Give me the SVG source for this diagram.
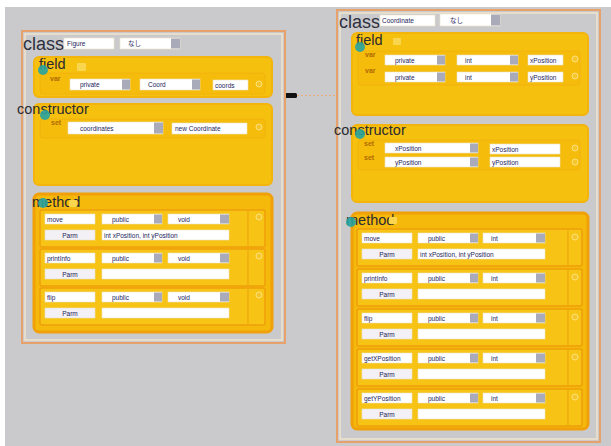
<svg xmlns="http://www.w3.org/2000/svg" width="611" height="446" viewBox="0 0 611 446">
<defs>
<style>
.frame{fill:none;stroke:#e7a26c;stroke-width:2}
.frin{fill:none;stroke:#efe4cc;stroke-width:1.5}
.blk{fill:#f6c00f;stroke:#f3b40c;stroke-width:2}
.mblk{fill:#f5b90c;stroke:#f0a008;stroke-width:3}
.vrow{fill:#f5bc0c;stroke:#f1b00e;stroke-width:0.8}
.row{fill:#f7c416;stroke:#ee9f0a;stroke-width:1.5}
.div{stroke:#ee9f0a;stroke-width:1}
.inp{fill:#ffffff;stroke:#ece3c4;stroke-width:0.6}
.btn{fill:#a9abbb}
.pbtn{fill:#f3f1f6;stroke:#e6dfc8;stroke-width:0.6}
.t{font-family:"Liberation Sans",Arial,sans-serif;font-size:6.5px;fill:#24245a}
.jp{font-family:"Liberation Sans","Noto Sans CJK JP",sans-serif;font-size:6.5px;fill:#24245a}
.lbl{font-family:"Liberation Sans",Arial,sans-serif;font-size:14.5px;fill:#2a2a30}
.cls{font-family:"Liberation Sans",Arial,sans-serif;font-size:18px;fill:#2e3040}
.tag{font-family:"Liberation Sans",Arial,sans-serif;font-size:7px;font-weight:bold;fill:#b06a00}
.dot{fill:#f6c52c;stroke:#fce07a;stroke-width:1}
.teal{fill:#27a3a0;opacity:0.9}
.sq{fill:#f9d64e}
</style>
</defs>
<rect x="0" y="0" width="611" height="446" fill="#ffffff"/>
<rect x="5" y="7" width="606" height="439" fill="#cacacd"/>

<g id="connectors">
<rect x="285" y="93" width="12" height="5" rx="1.5" fill="#111111"/>
<line x1="297" y1="95.5" x2="337" y2="95.5" stroke="#e4ae7e" stroke-width="1" stroke-dasharray="2,2"/>
</g>

<g id="class-figure">
<rect class="frame" x="22" y="31" width="263" height="312"/>
<rect class="frin" x="25" y="34" width="257" height="306"/>
<text class="cls" x="23" y="50">class</text>
<rect class="inp" x="64" y="38" width="50" height="11"/>
<text class="t" x="67" y="46">Figure</text>
<rect class="inp" x="120" y="38" width="60" height="11"/>
<rect class="btn" x="171" y="38.5" width="9" height="10"/>
<text class="jp" x="128" y="46">なし</text>

<g id="figure-field">
<rect class="blk" x="34" y="57" width="238" height="40" rx="5"/>
<rect class="vrow" x="40" y="73" width="225" height="21" rx="3"/>
<text class="lbl" x="39" y="69">field</text>
<circle class="teal" cx="43" cy="70" r="5"/>
<rect class="sq" x="77" y="63" width="9" height="8" rx="1"/>
<text class="tag" x="50" y="81">var</text>
<rect class="inp" x="70" y="79" width="60" height="11"/>
<rect class="btn" x="122" y="79.5" width="8" height="10"/>
<text class="t" x="80" y="87">private</text>
<rect class="inp" x="140" y="79" width="60" height="11"/>
<rect class="btn" x="192" y="79.5" width="8" height="10"/>
<text class="t" x="148" y="87">Coord</text>
<rect class="inp" x="213" y="80" width="35" height="10"/>
<text class="t" x="215" y="87.5">coords</text>
<circle class="dot" cx="259" cy="84" r="3"/>
</g>

<g id="figure-constructor">
<rect class="blk" x="34" y="104" width="238" height="81" rx="5"/>
<rect class="vrow" x="40" y="119" width="225" height="19" rx="3"/>
<text class="lbl" x="17" y="114">constructor</text>
<circle class="teal" cx="45" cy="115" r="5"/>
<text class="tag" x="51" y="125">set</text>
<rect class="inp" x="68" y="122" width="95" height="12"/>
<rect class="btn" x="154" y="122.5" width="9" height="11"/>
<text class="t" x="80" y="130.5">coordinates</text>
<rect class="inp" x="172" y="123" width="75" height="11"/>
<text class="t" x="175" y="131">new Coordinate</text>
<circle class="dot" cx="259" cy="127" r="3"/>
</g>

<g id="figure-method">
<rect class="mblk" x="34" y="194" width="238" height="138" rx="5"/>
<text class="lbl" x="32" y="207">method</text>
<circle class="teal" cx="43" cy="203" r="5"/>
<rect class="sq" x="69" y="200" width="8" height="7" rx="1"/>

<g id="figure-move">
<rect class="row" x="40" y="210" width="225" height="37" rx="2"/>
<line class="div" x1="248" y1="211" x2="248" y2="246"/>
<rect class="inp" x="45" y="214" width="50" height="10"/>
<text class="t" x="47" y="221.5">move</text>
<rect class="inp" x="102" y="214" width="60" height="10"/>
<rect class="btn" x="154" y="214.5" width="8" height="9"/>
<text class="t" x="112" y="221.5">public</text>
<rect class="inp" x="168" y="214" width="61" height="10"/>
<rect class="btn" x="220" y="214.5" width="9" height="9"/>
<text class="t" x="178" y="221.5">void</text>
<rect class="pbtn" x="45" y="230" width="50" height="10"/>
<text class="t" x="70" y="237.5" text-anchor="middle">Parm</text>
<rect class="inp" x="102" y="230" width="127" height="10"/>
<text class="t" x="104" y="237.5">int xPosition, int yPosition</text>
<circle class="dot" cx="259" cy="217" r="3"/>
</g>

<g id="figure-printInfo">
<rect class="row" x="40" y="249" width="225" height="37" rx="2"/>
<line class="div" x1="248" y1="250" x2="248" y2="285"/>
<rect class="inp" x="45" y="253" width="50" height="10"/>
<text class="t" x="47" y="260.5">printInfo</text>
<rect class="inp" x="102" y="253" width="60" height="10"/>
<rect class="btn" x="154" y="253.5" width="8" height="9"/>
<text class="t" x="112" y="260.5">public</text>
<rect class="inp" x="168" y="253" width="61" height="10"/>
<rect class="btn" x="220" y="253.5" width="9" height="9"/>
<text class="t" x="178" y="260.5">void</text>
<rect class="pbtn" x="45" y="269" width="50" height="10"/>
<text class="t" x="70" y="276.5" text-anchor="middle">Parm</text>
<rect class="inp" x="102" y="269" width="127" height="10"/>
<circle class="dot" cx="259" cy="256" r="3"/>
</g>

<g id="figure-flip">
<rect class="row" x="40" y="288" width="225" height="37" rx="2"/>
<line class="div" x1="248" y1="289" x2="248" y2="324"/>
<rect class="inp" x="45" y="292" width="50" height="10"/>
<text class="t" x="47" y="299.5">flip</text>
<rect class="inp" x="102" y="292" width="60" height="10"/>
<rect class="btn" x="154" y="292.5" width="8" height="9"/>
<text class="t" x="112" y="299.5">public</text>
<rect class="inp" x="168" y="292" width="61" height="10"/>
<rect class="btn" x="220" y="292.5" width="9" height="9"/>
<text class="t" x="178" y="299.5">void</text>
<rect class="pbtn" x="45" y="308" width="50" height="10"/>
<text class="t" x="70" y="315.5" text-anchor="middle">Parm</text>
<rect class="inp" x="102" y="308" width="127" height="10"/>
<circle class="dot" cx="259" cy="295" r="3"/>
</g>
</g>
</g>

<g id="class-coordinate">
<rect class="frame" x="337" y="10" width="263" height="432"/>
<rect class="frin" x="340" y="13" width="257" height="426"/>
<text class="cls" x="339" y="28">class</text>
<rect class="inp" x="380" y="15" width="55" height="11"/>
<text class="t" x="382" y="23">Coordinate</text>
<rect class="inp" x="440" y="14" width="60" height="12"/>
<rect class="btn" x="491" y="14.5" width="9" height="11"/>
<text class="jp" x="450" y="22.5">なし</text>

<g id="coordinate-field">
<rect class="blk" x="352" y="33" width="236" height="82" rx="5"/>
<rect class="vrow" x="358" y="51" width="222" height="34" rx="3"/>
<text class="lbl" x="356" y="45">field</text>
<circle class="teal" cx="360" cy="47" r="5"/>
<rect class="sq" x="393" y="38" width="8" height="7" rx="1"/>
<text class="tag" x="365" y="57">var</text>
<rect class="inp" x="385" y="55" width="60" height="10"/>
<rect class="btn" x="437" y="55.5" width="8" height="9"/>
<text class="t" x="395" y="62.5">private</text>
<rect class="inp" x="457" y="55" width="61" height="10"/>
<rect class="btn" x="510" y="55.5" width="8" height="9"/>
<text class="t" x="465" y="62.5">int</text>
<rect class="inp" x="528" y="55" width="35" height="10"/>
<text class="t" x="530" y="62.5">xPosition</text>
<circle class="dot" cx="575" cy="59" r="3"/>
<text class="tag" x="365" y="73">var</text>
<rect class="inp" x="385" y="72" width="60" height="10"/>
<rect class="btn" x="437" y="72.5" width="8" height="9"/>
<text class="t" x="395" y="79.5">private</text>
<rect class="inp" x="457" y="72" width="61" height="10"/>
<rect class="btn" x="510" y="72.5" width="8" height="9"/>
<text class="t" x="465" y="79.5">int</text>
<rect class="inp" x="528" y="72" width="35" height="10"/>
<text class="t" x="530" y="79.5">yPosition</text>
<circle class="dot" cx="575" cy="76" r="3"/>
</g>

<g id="coordinate-constructor">
<rect class="blk" x="352" y="125" width="236" height="77" rx="5"/>
<rect class="vrow" x="358" y="140" width="222" height="30" rx="3"/>
<text class="lbl" x="334" y="135">constructor</text>
<circle class="teal" cx="360" cy="134" r="5"/>
<text class="tag" x="364" y="146">set</text>
<rect class="inp" x="385" y="143" width="93" height="10"/>
<rect class="btn" x="470" y="143.5" width="8" height="9"/>
<text class="t" x="395" y="150.5">xPosition</text>
<rect class="inp" x="490" y="144" width="70" height="10"/>
<text class="t" x="492" y="151.5">xPosition</text>
<circle class="dot" cx="575" cy="148" r="3"/>
<text class="tag" x="364" y="160">set</text>
<rect class="inp" x="385" y="157" width="93" height="10"/>
<rect class="btn" x="470" y="157.5" width="8" height="9"/>
<text class="t" x="395" y="164.5">yPosition</text>
<rect class="inp" x="490" y="157" width="70" height="10"/>
<text class="t" x="492" y="164.5">yPosition</text>
<circle class="dot" cx="575" cy="162" r="3"/>
</g>

<g id="coordinate-method">
<rect class="mblk" x="352" y="213" width="236" height="216" rx="5"/>
<text class="lbl" x="346" y="225">method</text>
<circle class="teal" cx="351" cy="222" r="5"/>
<rect class="sq" x="389" y="217" width="8" height="7" rx="1"/>

<g id="coordinate-move">
<rect class="row" x="357" y="229" width="225" height="37" rx="2"/>
<line class="div" x1="568" y1="230" x2="568" y2="265"/>
<rect class="inp" x="362" y="233" width="50" height="10"/>
<text class="t" x="364" y="240.5">move</text>
<rect class="inp" x="418" y="233" width="60" height="10"/>
<rect class="btn" x="470" y="233.5" width="8" height="9"/>
<text class="t" x="428" y="240.5">public</text>
<rect class="inp" x="483" y="233" width="62" height="10"/>
<rect class="btn" x="536" y="233.5" width="9" height="9"/>
<text class="t" x="491" y="240.5">int</text>
<rect class="pbtn" x="362" y="249" width="50" height="10"/>
<text class="t" x="387" y="256.5" text-anchor="middle">Parm</text>
<rect class="inp" x="418" y="249" width="127" height="10"/>
<text class="t" x="420" y="256.5">int xPosition, int yPosition</text>
<circle class="dot" cx="575" cy="237" r="3"/>
</g>

<g id="coordinate-printInfo">
<rect class="row" x="357" y="269" width="225" height="37" rx="2"/>
<line class="div" x1="568" y1="270" x2="568" y2="305"/>
<rect class="inp" x="362" y="273" width="50" height="10"/>
<text class="t" x="364" y="280.5">printInfo</text>
<rect class="inp" x="418" y="273" width="60" height="10"/>
<rect class="btn" x="470" y="273.5" width="8" height="9"/>
<text class="t" x="428" y="280.5">public</text>
<rect class="inp" x="483" y="273" width="62" height="10"/>
<rect class="btn" x="536" y="273.5" width="9" height="9"/>
<text class="t" x="491" y="280.5">int</text>
<rect class="pbtn" x="362" y="289" width="50" height="10"/>
<text class="t" x="387" y="296.5" text-anchor="middle">Parm</text>
<rect class="inp" x="418" y="289" width="127" height="10"/>
<circle class="dot" cx="575" cy="277" r="3"/>
</g>

<g id="coordinate-flip">
<rect class="row" x="357" y="309" width="225" height="37" rx="2"/>
<line class="div" x1="568" y1="310" x2="568" y2="345"/>
<rect class="inp" x="362" y="313" width="50" height="10"/>
<text class="t" x="364" y="320.5">flip</text>
<rect class="inp" x="418" y="313" width="60" height="10"/>
<rect class="btn" x="470" y="313.5" width="8" height="9"/>
<text class="t" x="428" y="320.5">public</text>
<rect class="inp" x="483" y="313" width="62" height="10"/>
<rect class="btn" x="536" y="313.5" width="9" height="9"/>
<text class="t" x="491" y="320.5">int</text>
<rect class="pbtn" x="362" y="329" width="50" height="10"/>
<text class="t" x="387" y="336.5" text-anchor="middle">Parm</text>
<rect class="inp" x="418" y="329" width="127" height="10"/>
<circle class="dot" cx="575" cy="317" r="3"/>
</g>

<g id="coordinate-getXPosition">
<rect class="row" x="357" y="349" width="225" height="37" rx="2"/>
<line class="div" x1="568" y1="350" x2="568" y2="385"/>
<rect class="inp" x="362" y="353" width="50" height="10"/>
<text class="t" x="364" y="360.5">getXPosition</text>
<rect class="inp" x="418" y="353" width="60" height="10"/>
<rect class="btn" x="470" y="353.5" width="8" height="9"/>
<text class="t" x="428" y="360.5">public</text>
<rect class="inp" x="483" y="353" width="62" height="10"/>
<rect class="btn" x="536" y="353.5" width="9" height="9"/>
<text class="t" x="491" y="360.5">int</text>
<rect class="pbtn" x="362" y="369" width="50" height="10"/>
<text class="t" x="387" y="376.5" text-anchor="middle">Parm</text>
<rect class="inp" x="418" y="369" width="127" height="10"/>
<circle class="dot" cx="575" cy="357" r="3"/>
</g>

<g id="coordinate-getYPosition">
<rect class="row" x="357" y="389" width="225" height="37" rx="2"/>
<line class="div" x1="568" y1="390" x2="568" y2="425"/>
<rect class="inp" x="362" y="393" width="50" height="10"/>
<text class="t" x="364" y="400.5">getYPosition</text>
<rect class="inp" x="418" y="393" width="60" height="10"/>
<rect class="btn" x="470" y="393.5" width="8" height="9"/>
<text class="t" x="428" y="400.5">public</text>
<rect class="inp" x="483" y="393" width="62" height="10"/>
<rect class="btn" x="536" y="393.5" width="9" height="9"/>
<text class="t" x="491" y="400.5">int</text>
<rect class="pbtn" x="362" y="409" width="50" height="10"/>
<text class="t" x="387" y="416.5" text-anchor="middle">Parm</text>
<rect class="inp" x="418" y="409" width="127" height="10"/>
<circle class="dot" cx="575" cy="397" r="3"/>
</g>
</g>
</g>
</svg>
